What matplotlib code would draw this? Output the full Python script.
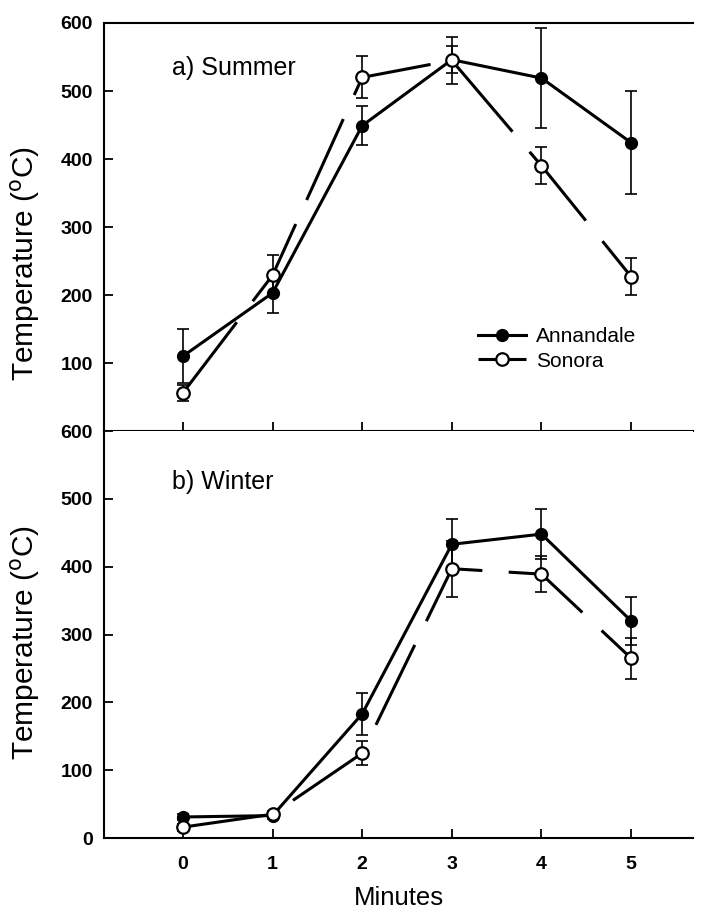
import matplotlib
matplotlib.use('Agg')
import matplotlib.pyplot as plt

plt.rcParams['font.family'] = ['Liberation Sans', 'DejaVu Sans']
plt.rcParams['lines.scale_dashes'] = False

# ── data ──────────────────────────────────────────────────────────────────────
minutes = [0, 1, 2, 3, 4, 5]

summer_annandale     = [110, 203, 449, 546, 519, 424]
summer_annandale_err = [40, 29, 29, 20, 73, 76]
summer_sonora        = [56, 229, 520, 545, 390, 227]
summer_sonora_err    = [12, 30, 31, 34, 27, 27]

winter_annandale     = [31, 33, 183, 433, 448, 320]
winter_annandale_err = [5, 5, 31, 37, 37, 35]
winter_sonora        = [16, 35, 125, 397, 389, 265]
winter_sonora_err    = [5, 5, 18, 41, 27, 30]

panels = [
    ('a) Summer', summer_annandale, summer_annandale_err, summer_sonora, summer_sonora_err),
    ('b) Winter', winter_annandale, winter_annandale_err, winter_sonora, winter_sonora_err),
]

# ── figure ────────────────────────────────────────────────────────────────────
fig = plt.figure(figsize=(7.11, 9.13), dpi=100)
W, H = 711, 913
left, right = 104 / W, 693 / W
ax_top = fig.add_axes([left, 1 - 431 / H, right - left, (431 - 23) / H])
ax_bot = fig.add_axes([left, 1 - 838 / H, right - left, (838 - 431) / H])

LW = 2.2
DASH = (0, (64, 19))   # long SigmaPlot-style dashes, in points

for ax, (title, ann, ann_err, son, son_err) in zip([ax_top, ax_bot], panels):
    ax.errorbar(minutes, ann, yerr=ann_err, fmt='none', ecolor='black',
                elinewidth=1.2, capsize=4.5, capthick=1.2, zorder=2)
    ax.errorbar(minutes, son, yerr=son_err, fmt='none', ecolor='black',
                elinewidth=1.2, capsize=4.5, capthick=1.2, zorder=2)
    ax.plot(minutes, ann, color='black', lw=LW, marker='o', ms=8.5,
            mfc='black', mec='black', label='Annandale', zorder=3)
    ax.plot(minutes, son, color='black', lw=LW, linestyle=DASH, marker='o',
            ms=9, mfc='white', mec='black', mew=1.6, label='Sonora', zorder=4)

    ax.set_xlim(-0.88, 5.69)
    ax.set_ylim(0, 600)
    ax.text(0.115, 0.89 if ax is ax_top else 0.875, title, transform=ax.transAxes,
            fontsize=18, va='center', ha='left')
    ax.spines['right'].set_visible(False)
    for s in ax.spines.values():
        s.set_linewidth(1.5)
    ax.tick_params(direction='in', length=6.5, width=1.3, labelsize=14)
    ax.tick_params(axis='y', pad=8)
    ax.tick_params(axis='x', pad=13)
    ax.set_xticks(minutes)
    ax.set_ylabel('Temperature ($^{\\mathrm{o}}$C)', fontsize=21.5)

# top panel
ax_top.set_yticks([100, 200, 300, 400, 500, 600])
ax_top.tick_params(axis='x', labelbottom=False)
ax_top.yaxis.set_label_coords(-0.105, 0.41)
ax_top.legend(loc='center left', bbox_to_anchor=(0.635, 0.201), frameon=False,
              fontsize=15, handlelength=2.3, handletextpad=0.5,
              labelspacing=0.25, borderpad=0, borderaxespad=0)

# bottom panel
ax_bot.spines['top'].set_visible(False)
ax_bot.set_yticks([0, 100, 200, 300, 400, 500, 600])
ax_bot.yaxis.set_label_coords(-0.105, 0.48)
ax_bot.set_xlabel('Minutes', fontsize=18.5, labelpad=9)

for ax in (ax_top, ax_bot):
    for lab in ax.get_yticklabels() + ax.get_xticklabels():
        lab.set_fontweight('bold')

fig.savefig('out.png', dpi=100)
